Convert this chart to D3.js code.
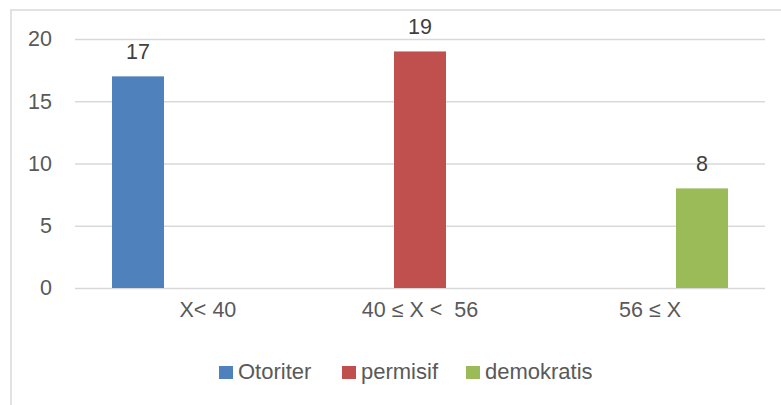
<!DOCTYPE html>
<html>
<head>
<meta charset="utf-8">
<script src="https://cdn.jsdelivr.net/npm/d3@7"></script>
<style>
  body { margin: 0; background: #fff; }
  text { font-family: "Liberation Sans", Arial, sans-serif; white-space: pre; }
</style>
</head>
<body>
<div id="chart1"></div>
<script>
// data
const categories = ["\u00a0\u00a0\u00a0\u00a0\u00a0\u00a0X< 40", "40 \u2264 X <\u00a0\u00a056", "56 \u2264 X"];
const seriesNames = ["Otoriter", "permisif", "demokratis"];
const otoriter = [17, 0, 0];
const permisif = [0, 19, 0];
const demokratis = [0, 0, 8];
const yTicks = [0, 5, 10, 15, 20];
const colors = ["#4f81bd", "#c0504d", "#9bbb59"];

const width = 781, height = 405;
const margin = { top: 39, left: 75, bottom: 117, right: 16 };
const innerW = width - margin.left - margin.right;
const innerH = height - margin.top - margin.bottom;
const fontSize = "21.5px";

const seriesValues = [otoriter, permisif, demokratis];
const rows = categories.map((c, i) => {
    const r = { category: c };
    seriesNames.forEach((s, j) => r[s] = seriesValues[j][i]);
    return r;
});

const svg = d3.select("#chart1").append("svg")
    .attr("width", width)
    .attr("height", height);

// outer frame (runs off the right and bottom)
svg.append("rect")
    .attr("x", 11).attr("y", 10)
    .attr("width", 820).attr("height", 500)
    .attr("fill", "none")
    .attr("stroke", "#d9d9d9")
    .attr("stroke-width", 1.5);

const x0 = d3.scaleBand()
    .domain(categories)
    .range([0, innerW])
    .paddingInner(0.3217)
    .paddingOuter(0.3217 / 2);

const x1 = d3.scaleBand()
    .domain(seriesNames)
    .range([0, x0.bandwidth()]);

const y = d3.scaleLinear()
    .domain([0, 20])
    .range([innerH, 0]);

const color = d3.scaleOrdinal().domain(seriesNames).range(colors);

const g = svg.append("g").attr("transform", `translate(${margin.left},${margin.top})`);

// y axis + gridlines
const yAxis = d3.axisLeft(y).tickValues(yTicks).tickSize(-innerW).tickPadding(23);
g.append("g")
    .attr("class", "y-axis")
    .call(yAxis)
    .call(a => a.select(".domain").remove())
    .call(a => a.selectAll(".tick line").attr("stroke", "#d9d9d9").attr("stroke-width", 1.5))
    .call(a => a.selectAll(".tick text")
        .attr("fill", "#595959")
        .style("font-size", fontSize)
        .style("font-family", "Liberation Sans, Arial, sans-serif"));

// x axis
const xAxis = d3.axisBottom(x0).tickSize(0).tickPadding(14);
g.append("g")
    .attr("class", "x-axis")
    .attr("transform", `translate(0,${innerH})`)
    .call(xAxis)
    .call(a => a.select(".domain").remove())
    .call(a => a.selectAll(".tick text")
        .attr("fill", "#595959")
        .style("font-size", fontSize)
        .style("font-family", "Liberation Sans, Arial, sans-serif"));

// bars
const groups = g.append("g")
    .selectAll("g.grp")
    .data(rows)
    .join("g")
    .attr("class", "grp")
    .attr("transform", d => `translate(${x0(d.category)},0)`);

groups.selectAll("rect")
    .data(d => seriesNames.map(s => ({ key: s, value: d[s] })))
    .join("rect")
    .attr("x", d => x1(d.key))
    .attr("y", d => y(d.value))
    .attr("width", x1.bandwidth())
    .attr("height", d => y(0) - y(d.value))
    .attr("fill", d => color(d.key));

// value labels
groups.selectAll("text.val")
    .data(d => seriesNames.map(s => ({ key: s, value: d[s] })).filter(v => v.value > 0))
    .join("text")
    .attr("class", "val")
    .attr("x", d => x1(d.key) + x1.bandwidth() / 2)
    .attr("y", d => y(d.value) - 17)
    .attr("text-anchor", "middle")
    .attr("fill", "#404040")
    .style("font-size", fontSize)
    .text(d => d.value);

// legend
const legend = svg.append("g").attr("transform", "translate(219,366)");
const legendX = [0, 123, 247];
const items = legend.selectAll("g")
    .data(seriesNames)
    .join("g")
    .attr("transform", (d, i) => `translate(${legendX[i]},0)`);
items.append("rect")
    .attr("width", 14).attr("height", 13)
    .attr("fill", d => color(d));
items.append("text")
    .attr("x", 19).attr("y", 13)
    .attr("fill", "#595959")
    .style("font-size", "22px")
    .text(d => d);
</script>
</body>
</html>
